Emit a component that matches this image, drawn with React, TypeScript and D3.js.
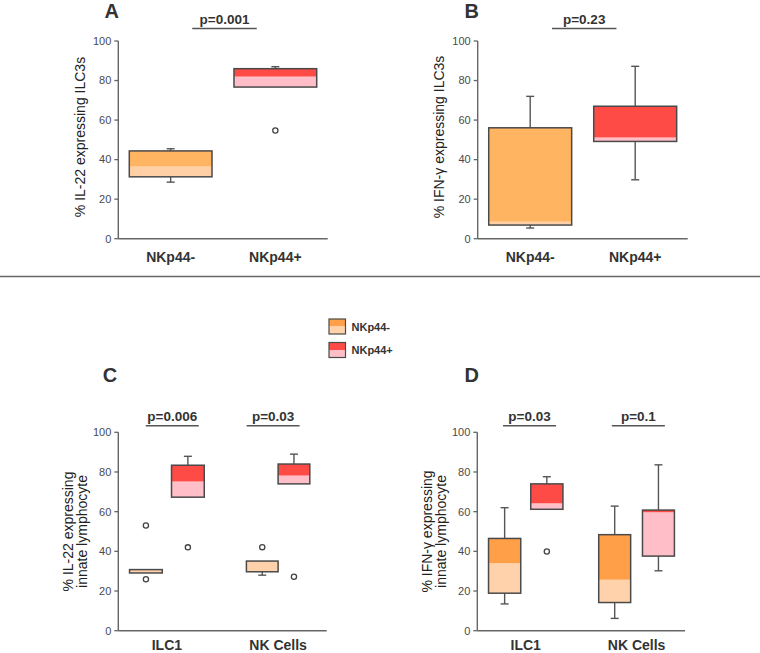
import React from "react";
import * as d3 from "d3";

// ---------- DATA ----------
const seriesNames = ["NKp44-", "NKp44+"];
const cellTypes = ["ILC1", "NK Cells"];
const yTicks = [0, 20, 40, 60, 80, 100];

// Panel A: % IL-22 expressing ILC3s  (index: NKp44-, NKp44+)
const aQ1 = [31.3, 76.7];
const aMed = [36.5, 82.0];
const aQ3 = [44.4, 86.0];
const aLo = [28.6, 76.7];
const aHi = [45.5, 87.0];
const aOut = [[], [54.7]];
const aP = "p=0.001";

// Panel B: % IFN-γ expressing ILC3s
const bQ1 = [6.9, 49.2];
const bMed = [8.6, 51.2];
const bQ3 = [56.1, 67.0];
const bLo = [5.4, 29.8];
const bHi = [72.0, 87.2];
const bOut = [[], []];
const bP = "p=0.23";

// Panel C: % IL-22 expressing innate lymphocyte  [cellType][series]
const cQ1 = [[29.1, 67.3], [29.7, 74.0]];
const cMed = [[30.6, 75.2], [35.0, 78.2]];
const cQ3 = [[30.8, 83.4], [35.1, 84.0]];
const cLo = [[29.1, 67.3], [28.0, 74.0]];
const cHi = [[30.8, 87.9], [35.1, 89.0]];
const cOut = [[[53.0, 25.9], [42.0]], [[42.1], [27.2]]];
const cP = ["p=0.006", "p=0.03"];

// Panel D: % IFN-γ expressing innate lymphocyte
const dQ1 = [[18.9, 61.2], [14.2, 37.6]];
const dMed = [[34.0, 64.2], [25.7, 59.7]];
const dQ3 = [[46.5, 74.0], [48.4, 60.8]];
const dLo = [[13.5, 61.2], [6.2, 30.2]];
const dHi = [[62.0, 77.6], [62.8, 83.6]];
const dOut = [[[], [39.9]], [[], []]];
const dP = ["p=0.03", "p=0.1"];

// ---------- STYLE ----------
const FONT = "'Liberation Sans', Arial, Helvetica, sans-serif";
const INK = "#444";
const AXIS = "#666";
const minusColorsAB = ["#FFB462", "#FFD0A6"];
const minusColorsCD = ["#FF9F48", "#FFD2AC"];
const plusColors = ["#FF4B45", "#FFBEC8"];

type BoxProps = {
  cx: number; w: number; y: d3.ScaleLinear<number, number>;
  q1: number; med: number; q3: number; lo: number; hi: number; outs: number[];
  dark: string; light: string;
};

function BoxMark({ cx, w, y, q1, med, q3, lo, hi, outs, dark, light }: BoxProps) {
  const cap = 4;
  return (
    <g>
      {hi > q3 && (
        <g stroke="#555" strokeWidth={1.4}>
          <line x1={cx} x2={cx} y1={y(q3)} y2={y(hi)} />
          <line x1={cx - cap} x2={cx + cap} y1={y(hi)} y2={y(hi)} />
        </g>
      )}
      {lo < q1 && (
        <g stroke="#555" strokeWidth={1.4}>
          <line x1={cx} x2={cx} y1={y(q1)} y2={y(lo)} />
          <line x1={cx - cap} x2={cx + cap} y1={y(lo)} y2={y(lo)} />
        </g>
      )}
      <rect x={cx - w / 2} y={y(med)} width={w} height={Math.max(0, y(q1) - y(med))} fill={light} />
      <rect x={cx - w / 2} y={y(q3)} width={w} height={Math.max(0, y(med) - y(q3))} fill={dark} />
      <rect x={cx - w / 2} y={y(q3)} width={w} height={y(q1) - y(q3)} fill="none" stroke="#4a4a4a" strokeWidth={1.5} />
      {outs.map((o, i) => (
        <circle key={i} cx={cx} cy={y(o)} r={2.6} fill="#fff" stroke={INK} strokeWidth={1.3} />
      ))}
    </g>
  );
}

type AxisProps = {
  left: number; right: number; y: d3.ScaleLinear<number, number>;
  title: string[]; titleY: number; letter: string; letterX: number; letterY: number;
};

function Frame({ left, right, y, title, titleY, letter, letterX, letterY }: AxisProps) {
  const yb = y(0);
  const offsets = title.length === 1 ? [-38.3] : [-50.5, -36.5];
  return (
    <g>
      <text x={letterX} y={letterY} textAnchor="middle" fontFamily={FONT} fontWeight="bold" fontSize={20} fill="#333">
        {letter}
      </text>
      <line x1={left} x2={left} y1={y(100)} y2={yb} stroke={AXIS} strokeWidth={1.4} />
      <line x1={left} x2={right} y1={yb} y2={yb} stroke={AXIS} strokeWidth={1.4} />
      {yTicks.map((t) => (
        <g key={t}>
          <line x1={left - 4} x2={left} y1={y(t)} y2={y(t)} stroke={AXIS} strokeWidth={1.3} />
          <text x={left - 7} y={y(t)} dy="0.35em" textAnchor="end" fontFamily={FONT} fontSize={11} fill="#4a4a4a">
            {t}
          </text>
        </g>
      ))}
      {title.map((t, i) => (
        <text
          key={i}
          transform={`translate(${left + offsets[i]},${titleY}) rotate(-90)`}
          dy="0.35em"
          textAnchor="middle"
          fontFamily={FONT}
          fontSize={14}
          fill="#222"
        >
          {t}
        </text>
      ))}
    </g>
  );
}

function PValue({ cx, w, textY, lineY, label }: { cx: number; w: number; textY: number; lineY: number; label: string }) {
  return (
    <g>
      <text x={cx} y={textY} textAnchor="middle" fontFamily={FONT} fontWeight="bold" fontSize={13.5} fill="#333">
        {label}
      </text>
      <line x1={cx - w / 2} x2={cx + w / 2} y1={lineY} y2={lineY} stroke="#555" strokeWidth={1.5} />
    </g>
  );
}

type SimpleProps = {
  left: number; right: number; top: number; bottom: number;
  letter: string; letterX: number; letterY: number; title: string[]; titleY: number;
  q1: number[]; med: number[]; q3: number[]; lo: number[]; hi: number[]; outs: number[][]; p: string;
  pTextY: number; pLineY: number; xLabelY: number;
};

function SimplePanel(props: SimpleProps) {
  const { left, right, top, bottom, q1, med, q3, lo, hi, outs, p } = props;
  const y = d3.scaleLinear().domain([0, 100]).range([bottom, top]);
  const x = d3.scalePoint<string>().domain(seriesNames).range([left, right]).padding(0.5);
  const boxW = x.step() * 0.79;
  const colors = [minusColorsAB, plusColors];
  const mid = ((x(seriesNames[0]) as number) + (x(seriesNames[1]) as number)) / 2;
  return (
    <g>
      <Frame left={left} right={right} y={y} title={props.title} titleY={props.titleY}
        letter={props.letter} letterX={props.letterX} letterY={props.letterY} />
      {seriesNames.map((s, i) => (
        <BoxMark key={s} cx={x(s) as number} w={boxW} y={y} q1={q1[i]} med={med[i]} q3={q3[i]}
          lo={lo[i]} hi={hi[i]} outs={outs[i]} dark={colors[i][0]} light={colors[i][1]} />
      ))}
      <PValue cx={mid + 1.5} w={64.5} textY={props.pTextY} lineY={props.pLineY} label={p} />
      {seriesNames.map((s) => (
        <text key={s} x={x(s) as number} y={props.xLabelY} textAnchor="middle" fontFamily={FONT}
          fontWeight="bold" fontSize={14} fill="#333">
          {s}
        </text>
      ))}
    </g>
  );
}

type GroupProps = {
  left: number; right: number; top: number; bottom: number;
  letter: string; letterX: number; letterY: number; title: string[]; titleY: number;
  q1: number[][]; med: number[][]; q3: number[][]; lo: number[][]; hi: number[][]; outs: number[][][]; p: string[];
  innerSpan: number[]; innerPad: number[]; pShift: number[];
  pTextY: number; pLineY: number; xLabelY: number;
};

function GroupPanel(props: GroupProps) {
  const { left, right, top, bottom, q1, med, q3, lo, hi, outs, p } = props;
  const y = d3.scaleLinear().domain([0, 100]).range([bottom, top]);
  const x0 = d3.scalePoint<string>().domain(cellTypes).range([left, right]).padding(0.437);
  const colors = [minusColorsCD, plusColors];
  return (
    <g>
      <Frame left={left} right={right} y={y} title={props.title} titleY={props.titleY}
        letter={props.letter} letterX={props.letterX} letterY={props.letterY} />
      {cellTypes.map((c, gi) => {
        const gc = x0(c) as number;
        const span = props.innerSpan[gi];
        const x1 = d3.scaleBand<string>().domain(seriesNames).range([gc - span / 2, gc + span / 2])
          .paddingInner(props.innerPad[gi]).paddingOuter(0);
        const bw = x1.bandwidth();
        return (
          <g key={c}>
            {seriesNames.map((s, si) => (
              <BoxMark key={s} cx={(x1(s) as number) + bw / 2} w={bw} y={y}
                q1={q1[gi][si]} med={med[gi][si]} q3={q3[gi][si]} lo={lo[gi][si]} hi={hi[gi][si]}
                outs={outs[gi][si]} dark={colors[si][0]} light={colors[si][1]} />
            ))}
            <PValue cx={gc + props.pShift[gi]} w={53} textY={props.pTextY} lineY={props.pLineY} label={p[gi]} />
            <text x={gc} y={props.xLabelY} textAnchor="middle" fontFamily={FONT} fontWeight="bold"
              fontSize={14} fill="#333">
              {c}
            </text>
          </g>
        );
      })}
    </g>
  );
}

function Legend() {
  const items = [
    { name: seriesNames[0], c: minusColorsCD },
    { name: seriesNames[1], c: plusColors },
  ];
  return (
    <g>
      {items.map((it, i) => {
        const yy = 319 + i * 23.5;
        return (
          <g key={it.name}>
            <rect x={329} y={yy} width={16.5} height={7.5} fill={it.c[0]} />
            <rect x={329} y={yy + 7.5} width={16.5} height={7.5} fill={it.c[1]} />
            <rect x={329} y={yy} width={16.5} height={15} fill="none" stroke="#4a4a4a" strokeWidth={1.2} />
            <text x={351.5} y={yy + 11.5} fontFamily={FONT} fontWeight="bold" fontSize={11} fill="#333">
              {it.name}
            </text>
          </g>
        );
      })}
    </g>
  );
}

export default function App() {
  return (
    <svg width={760} height={653} style={{ position: "absolute", left: 0, top: 0, background: "#fff" }}>
      <rect width={760} height={653} fill="#fff" />
      <SimplePanel left={118.3} right={327.7} top={41} bottom={238.7}
        letter="A" letterX={111.7} letterY={17.5} title={["% IL-22 expressing ILC3s"]} titleY={137}
        q1={aQ1} med={aMed} q3={aQ3} lo={aLo} hi={aHi} outs={aOut} p={aP}
        pTextY={23.5} pLineY={28.5} xLabelY={261.5} />
      <SimplePanel left={477.7} right={687.7} top={41} bottom={238.7}
        letter="B" letterX={471.7} letterY={17.5} title={["% IFN-γ expressing ILC3s"]} titleY={137}
        q1={bQ1} med={bMed} q3={bQ3} lo={bLo} hi={bHi} outs={bOut} p={bP}
        pTextY={23.5} pLineY={28.5} xLabelY={261.5} />
      <line x1={0} x2={760} y1={276.5} y2={276.5} stroke="#666" strokeWidth={1.5} />
      <Legend />
      <GroupPanel left={118.3} right={326.7} top={432.3} bottom={630.7}
        letter="C" letterX={110} letterY={382} title={["% IL-22 expressing", "innate lymphocyte"]} titleY={531.5}
        q1={cQ1} med={cMed} q3={cQ3} lo={cLo} hi={cHi} outs={cOut} p={cP}
        innerSpan={[74.7, 63.4]} innerPad={[0.22, 0]} pShift={[5.4, -5]}
        pTextY={421} pLineY={425.7} xLabelY={650} />
      <GroupPanel left={477.3} right={685} top={432.3} bottom={630.7}
        letter="D" letterX={471.7} letterY={382} title={["% IFN-γ expressing", "innate lymphocyte"]} titleY={531.5}
        q1={dQ1} med={dMed} q3={dQ3} lo={dLo} hi={dHi} outs={dOut} p={dP}
        innerSpan={[74.4, 75.7]} innerPad={[0.237, 0.27]} pShift={[3.8, 1.8]}
        pTextY={421} pLineY={425.7} xLabelY={650} />
    </svg>
  );
}
